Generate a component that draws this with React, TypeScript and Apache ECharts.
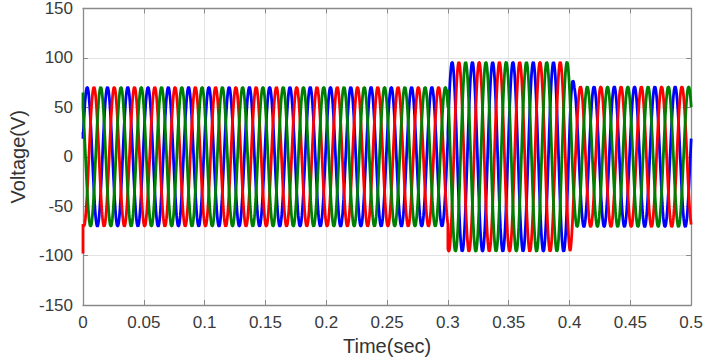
import React, { useEffect, useRef } from "react";
import * as echarts from "echarts";

// Three-phase voltage signal parameters
const FREQUENCY_HZ = 60;
const SAMPLE_RATE = 5000; // samples per second
const T_END = 0.5;
const PHASE_NAMES = ["Va", "Vb", "Vc"];
const PHASE_COLORS = ["#0000ff", "#ff0000", "#008000"];
const PHASE_OFFSETS_DEG = [15, -105, 135]; // blue, red, green
const START_VALUES = [25, -98, 65]; // initial sample at t = 0
// amplitude envelope (time in s, peak volts)
const ENV_T = [0, 0.3, 0.3, 0.4005, 0.404, 0.5];
const ENV_A = [70.5, 70.5, 96, 96, 71, 71];

const X_TICKS = [0, 0.05, 0.1, 0.15, 0.2, 0.25, 0.3, 0.35, 0.4, 0.45, 0.5];
const Y_TICKS = [-150, -100, -50, 0, 50, 100, 150];

function ampAt(t: number, right: boolean): number {
  let val = ENV_A[0];
  let found = false;
  for (let i = 1; i < ENV_T.length; i++) {
    const t0 = ENV_T[i - 1];
    const t1 = ENV_T[i];
    if (t >= t0 && t <= t1) {
      const v = t1 === t0 ? (right ? ENV_A[i] : ENV_A[i - 1]) : ENV_A[i - 1] + ((ENV_A[i] - ENV_A[i - 1]) * (t - t0)) / (t1 - t0);
      if (!found) {
        val = v;
        found = true;
        if (!right) return val;
      } else {
        val = v;
      }
    }
  }
  return val;
}

function buildSeries(p: number): number[][] {
  const out: number[][] = [];
  const w = 2 * Math.PI * FREQUENCY_HZ;
  const ph = (PHASE_OFFSETS_DEG[p] * Math.PI) / 180;
  out.push([0, START_VALUES[p]]);
  const n = Math.round(T_END * SAMPLE_RATE);
  for (let k = 0; k <= n; k++) {
    const t = k / SAMPLE_RATE;
    const s = Math.sin(w * t + ph);
    out.push([t, ampAt(t, false) * s]);
    const jump = ENV_T.some((x, i) => i > 0 && x === ENV_T[i - 1] && Math.abs(x - t) < 1e-9);
    if (jump) out.push([t, ampAt(t, true) * s]);
  }
  return out;
}

export default function App() {
  const ref = useRef<HTMLDivElement>(null);
  useEffect(() => {
    document.body.style.margin = "0";
    if (!ref.current) return;
    const chart = echarts.init(ref.current, undefined, { renderer: "svg" });
    const font = "'Liberation Sans', Arial, sans-serif";
    const axisLine = { show: true, onZero: false, lineStyle: { color: "#8a8a8a", width: 1.3 } };
    const tick = { show: true, inside: true, length: 5, lineStyle: { color: "#8a8a8a" } };
    const fmt = (v: number) => String(+v.toFixed(2));
    chart.setOption({
      animation: false,
      backgroundColor: "#ffffff",
      grid: { left: 76, right: 13, top: 7, bottom: 56, containLabel: false },
      xAxis: [
        {
          type: "value",
          min: X_TICKS[0],
          max: X_TICKS[X_TICKS.length - 1],
          interval: 0.05,
          name: "Time(sec)",
          nameLocation: "middle",
          nameGap: 31,
          nameTextStyle: { fontFamily: font, fontSize: 20, color: "#333" },
          axisLine,
          axisTick: tick,
          axisLabel: { formatter: fmt, fontFamily: font, fontSize: 17, color: "#3a3a3a", margin: 9 },
          splitLine: { show: true, lineStyle: { color: "#e3e3e3", width: 1 } },
        },
        {
          type: "value",
          position: "top",
          min: X_TICKS[0],
          max: X_TICKS[X_TICKS.length - 1],
          interval: 0.05,
          axisLine,
          axisTick: tick,
          axisLabel: { show: false },
          splitLine: { show: false },
        },
      ],
      yAxis: [
        {
          type: "value",
          min: Y_TICKS[0],
          max: Y_TICKS[Y_TICKS.length - 1],
          interval: 50,
          name: "Voltage(V)",
          nameLocation: "middle",
          nameGap: 55,
          nameTextStyle: { fontFamily: font, fontSize: 20, color: "#333" },
          axisLine,
          axisTick: tick,
          axisLabel: { fontFamily: font, fontSize: 17, color: "#3a3a3a", margin: 10 },
          splitLine: { show: true, lineStyle: { color: "#e3e3e3", width: 1 } },
        },
        {
          type: "value",
          position: "right",
          min: Y_TICKS[0],
          max: Y_TICKS[Y_TICKS.length - 1],
          interval: 50,
          axisLine,
          axisTick: tick,
          axisLabel: { show: false },
          splitLine: { show: false },
        },
      ],
      series: PHASE_NAMES.map((name, p) => ({
        name,
        type: "line",
        data: buildSeries(p),
        showSymbol: false,
        symbol: "none",
        lineStyle: { color: PHASE_COLORS[p], width: 2.8 },
        itemStyle: { color: PHASE_COLORS[p] },
        z: 2 + p,
      })),
    });
    return () => chart.dispose();
  }, []);
  return <div ref={ref} style={{ width: 706, height: 361 }} />;
}
